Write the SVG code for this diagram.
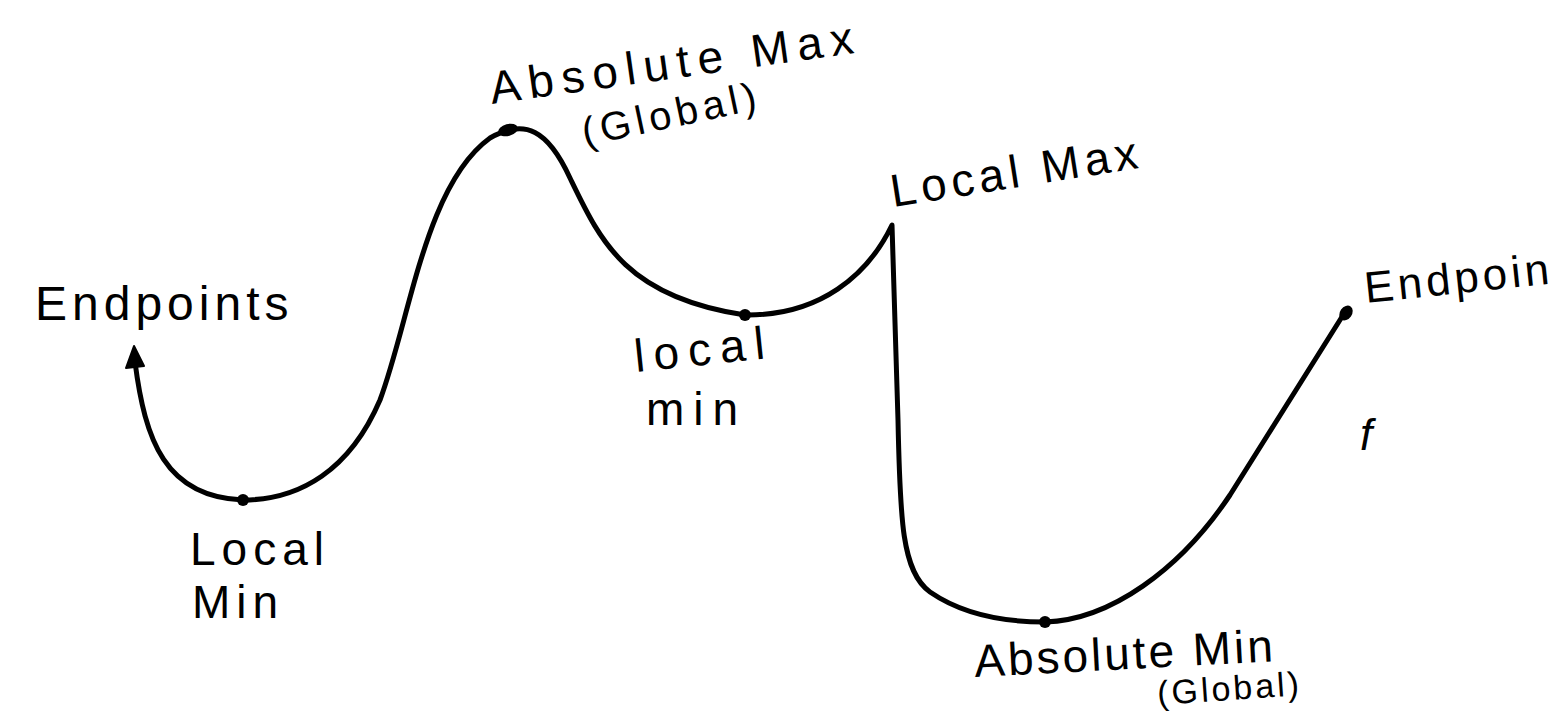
<svg xmlns="http://www.w3.org/2000/svg" width="1564" height="711" viewBox="0 0 1564 711">
<style>
.t{font-family:"Liberation Sans","DejaVu Sans",sans-serif;fill:#000;}
.c{fill:none;stroke:#000;stroke-width:5;stroke-linecap:round;stroke-linejoin:round;}
</style>
<rect width="1564" height="711" fill="#fff"/>
<g id="connectors">
<path class="c" d="M135,362 C145,440 165,497 243,500 C300,500 350,470 380,400 C410,320 425,185 490,138 C525,118 548,130 570,178 C600,240 625,297 745,315 C820,316 868,275 892,225 L898,420 C900,520 902,572 930,592 C962,614 1000,622 1045,622 C1110,620 1180,570 1230,495 L1345,312"/>
</g>
<g id="endpoint-left">
<path d="M126,368 L134,346 L144,366 Z" fill="#000" stroke="#000" stroke-width="2" stroke-linejoin="round"/>
<text class="t" x="35" y="320" font-size="48" letter-spacing="5">Endpoints</text>
</g>
<g id="local-min-1">
<circle cx="243" cy="500" r="6" fill="#000"/>
<text class="t" x="190" y="565" font-size="46" letter-spacing="6">Local</text>
<text class="t" x="192" y="618" font-size="46" letter-spacing="6">Min</text>
</g>
<g id="absolute-max">
<ellipse cx="508" cy="130" rx="10" ry="6" fill="#000" transform="rotate(-15 508 130)"/>
<text class="t" x="492" y="104" font-size="46" letter-spacing="8" transform="rotate(-8 492 104)">Absolute Max</text>
<text class="t" x="585" y="146" font-size="40" letter-spacing="5" transform="rotate(-12 585 146)">(Global)</text>
</g>
<g id="local-min-2">
<circle cx="745" cy="315" r="6" fill="#000"/>
<text class="t" x="636" y="372" font-size="46" letter-spacing="9" transform="rotate(-6 636 372)">local</text>
<text class="t" x="646" y="425" font-size="46" letter-spacing="9">min</text>
</g>
<g id="local-max">
<text class="t" x="893" y="207" font-size="46" letter-spacing="5" transform="rotate(-9 893 207)">Local Max</text>
</g>
<g id="endpoint-right">
<ellipse cx="1346" cy="313" rx="6" ry="8" fill="#000" transform="rotate(35 1346 313)"/>
<text class="t" x="1366" y="303" font-size="44" letter-spacing="4" transform="rotate(-6 1366 303)">Endpoin</text>
</g>
<g id="f-label">
<text class="t" x="1360" y="450" font-size="44" font-style="italic">f</text>
</g>
<g id="absolute-min">
<circle cx="1045" cy="622" r="6" fill="#000"/>
<text class="t" x="975" y="677" font-size="46" letter-spacing="3" transform="rotate(-3 975 677)">Absolute Min</text>
<text class="t" x="1158" y="705" font-size="34" letter-spacing="3" transform="rotate(-4 1158 705)">(Global)</text>
</g>
</svg>
